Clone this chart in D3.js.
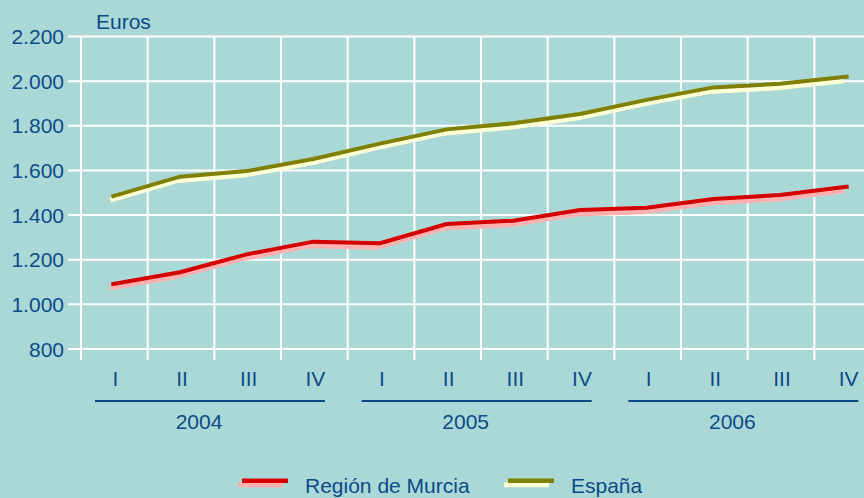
<!DOCTYPE html>
<html><head><meta charset="utf-8">
<script src="https://cdn.jsdelivr.net/npm/d3@7/dist/d3.min.js"></script>
<style>
html,body{margin:0;padding:0;background:#aad8d6;}
svg{display:block;}
text{font-family:"Liberation Sans",Arial,sans-serif;fill:#0b4a88;}
</style></head>
<body>
<svg id="chart" width="864" height="498"></svg>
<script>
const quarters = ["I","II","III","IV","I","II","III","IV","I","II","III","IV"];
const years = ["2004","2005","2006"];
const murcia = [1091,1144,1224,1281,1274,1360,1375,1423,1433,1472,1490,1527];
const espana = [1485,1572,1597,1651,1720,1784,1811,1853,1916,1972,1988,2020];
const yTicks = [800,1000,1200,1400,1600,1800,2000,2200];
const seriesNames = ["Región de Murcia","España"];

(function(){
const svg = d3.select("#chart");
const W = 864;
const pLeft = 81, pTop = 36.5, pBottom = 349;
const bandW = 800/12;
const FS = 21;

const x = d3.scaleBand().domain(d3.range(12)).range([pLeft, pLeft + 800]).padding(0);
const y = d3.scaleLinear().domain([800,2200]).range([pBottom, pTop]);
const fmt = v => d3.format(",")(v).replace(/,/g,".");

const grid = svg.append("g");
grid.selectAll("line.h").data(yTicks).join("line").attr("class","h")
  .attr("x1", 68).attr("x2", W)
  .attr("y1", d => y(d)).attr("y2", d => y(d))
  .attr("stroke","#ffffff").attr("stroke-width",2);
grid.selectAll("line.v").data(d3.range(13)).join("line").attr("class","v")
  .attr("x1", d => pLeft + d*bandW).attr("x2", d => pLeft + d*bandW)
  .attr("y1", pTop).attr("y2", pBottom + 11)
  .attr("stroke","#ffffff").attr("stroke-width",2);

svg.append("g").selectAll("text").data(yTicks).join("text")
  .attr("x", 64).attr("y", d => y(d)).attr("text-anchor","end")
  .attr("dominant-baseline","central").attr("font-size",FS).text(fmt);
svg.append("text").attr("x",96).attr("y",29).attr("font-size",FS).text("Euros");

svg.append("g").selectAll("text").data(quarters).join("text")
  .attr("x",(d,i)=>x(i)+bandW/2+1).attr("y",378)
  .attr("text-anchor","middle").attr("dominant-baseline","central")
  .attr("font-size",FS).text(d=>d);

const yg = svg.append("g").selectAll("g").data(years).join("g");
yg.append("line")
  .attr("x1",(d,i)=>x(i*4)+14).attr("x2",(d,i)=>x(i*4)+244)
  .attr("y1",401).attr("y2",401).attr("stroke","#0b4a88").attr("stroke-width",2);
yg.append("text")
  .attr("x",(d,i)=>x(i*4)+118).attr("y",421)
  .attr("text-anchor","middle").attr("dominant-baseline","central")
  .attr("font-size",FS).text(d=>d);

const cx = i => x(i) + bandW/2 - 1;
const mkLine = (dx,dy) => d3.line().x((d,i)=>cx(i)+dx).y(d=>y(d)+dy);
const series = [
  {vals: murcia, main:"#d40000", shadow:"#ffb0b0"},
  {vals: espana, main:"#808000", shadow:"#ffffd6"}
];
series.forEach(s=>{
  svg.append("path").datum(s.vals).attr("d", mkLine(-3,4))
    .attr("fill","none").attr("stroke",s.shadow).attr("stroke-width",5);
  svg.append("path").datum(s.vals).attr("d", mkLine(0,0))
    .attr("fill","none").attr("stroke",s.main).attr("stroke-width",4)
    .attr("stroke-linecap","square");
});

const legX = [242, 508];
const lg = svg.append("g").selectAll("g").data(seriesNames).join("g");
lg.append("line").attr("x1",(d,i)=>legX[i]-4).attr("x2",(d,i)=>legX[i]+41)
  .attr("y1",484.7).attr("y2",484.7).attr("stroke",(d,i)=>series[i].shadow).attr("stroke-width",5);
lg.append("line").attr("x1",(d,i)=>legX[i]).attr("x2",(d,i)=>legX[i]+46)
  .attr("y1",480.7).attr("y2",480.7).attr("stroke",(d,i)=>series[i].main).attr("stroke-width",4.5);
lg.append("text").attr("x",(d,i)=>legX[i]+63).attr("y",485)
  .attr("dominant-baseline","central").attr("font-size",FS).text(d=>d);
})();
</script>
</body></html>
